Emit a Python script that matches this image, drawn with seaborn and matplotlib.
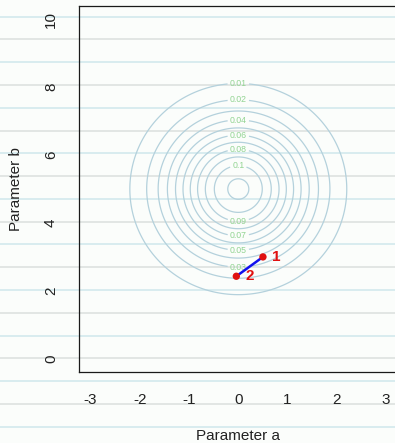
import numpy as np
import pandas as pd
import matplotlib
matplotlib.use("Agg")
import matplotlib.pyplot as plt
from matplotlib.lines import Line2D
import seaborn as sns

# Target density: independent normals for parameters a and b
mean_a, mean_b = 0.0, 5.0
sd_a, sd_b = 1.0, np.sqrt(2.0)
contour_levels = [0.01, 0.02, 0.03, 0.04, 0.05, 0.06, 0.07, 0.08, 0.09, 0.10, 0.11]
labels_above = [0.01, 0.02, 0.04, 0.06, 0.08, 0.10]
labels_below = [0.03, 0.05, 0.07, 0.09]

# Sampler path (step number, a, b)
steps = ["1", "2"]
path_a = [0.50, -0.04]
path_b = [3.00, 2.43]

x_ticks = [-3, -2, -1, 0, 1, 2, 3]
y_ticks = [0, 2, 4, 6, 8, 10]

sns.set_style("white")
plt.rcParams["font.family"] = ["Liberation Sans", "DejaVu Sans"]

W, H = 395, 443
fig = plt.figure(figsize=(W / 100, H / 100), dpi=100, facecolor="#fbfdfb")

# ruled background lines across the page
for i, y in enumerate(np.arange(16.6, H, 22.78)):
    col = "#d6ebee" if i % 2 == 0 else "#e0e4e2"
    fig.add_artist(Line2D([0, 1], [1 - y / H, 1 - y / H], transform=fig.transFigure,
                          color=col, lw=1.3, zorder=-5))

left, right, top, bottom = 78.6, 398.0, 5.8, 372.3
ax = fig.add_axes([left / W, 1 - bottom / H, (right - left) / W, (bottom - top) / H])
ax.set_facecolor("none")

ga = np.linspace(-3.3, 3.3, 400)
gb = np.linspace(-0.5, 10.5, 500)
A, B = np.meshgrid(ga, gb)
dens = np.exp(-0.5 * (((A - mean_a) / sd_a) ** 2 + ((B - mean_b) / sd_b) ** 2)) / (2 * np.pi * sd_a * sd_b)
peak = 1 / (2 * np.pi * sd_a * sd_b)

cs = ax.contour(A, B, dens, levels=contour_levels, colors="#b4d1dc", linewidths=0.9, zorder=1)

def radius_b(level):
    return sd_b * np.sqrt(2 * np.log(peak / level))

positions = [(mean_a, mean_b + radius_b(l)) for l in labels_above] + \
            [(mean_a, mean_b - radius_b(l)) for l in labels_below]
lbls = ax.clabel(cs, levels=labels_above + labels_below, manual=positions, inline=True,
                 inline_spacing=2, fontsize=6.3, fmt=lambda v: f"{v:g}", colors="#92d492")

df = pd.DataFrame({"step": steps, "a": path_a, "b": path_b})
sns.lineplot(data=df, x="a", y="b", sort=False, color="#1010ee", lw=1.8, ax=ax, zorder=3)
sns.scatterplot(data=df, x="a", y="b", color="#e01010", s=28, edgecolor="none", ax=ax, zorder=4)
for s, xa, yb in zip(steps, path_a, path_b):
    ax.annotate(s, (xa, yb), xytext=(6.5, 0), textcoords="offset points", ha="left",
                va="center", color="#e01010", fontsize=11, fontweight="bold", zorder=5)

ax.set_xlim(-3.24, 3.24)
ax.set_ylim(-0.4, 10.4)
ax.set_xticks(x_ticks)
ax.set_yticks(y_ticks)
ax.set_xticklabels([f"{t}" for t in x_ticks])
ax.set_yticklabels([f"{t}" for t in y_ticks], rotation=90, va="center")
ax.tick_params(axis="both", direction="out", length=5.8, width=1.1, color="#666666",
               labelsize=11, labelcolor="#222222", pad=9)
for side in ["left", "top", "bottom", "right"]:
    ax.spines[side].set_visible(True)
    ax.spines[side].set_color("#1a1a1a")
    ax.spines[side].set_linewidth(0.9)

ax.set_xlabel("Parameter a", fontsize=11, color="#222222", va="center")
ax.set_ylabel("Parameter b", fontsize=11, color="#222222", va="center")
ax.xaxis.set_label_coords((238.3 - left) / (right - left), -(436 - bottom) / (bottom - top), transform=ax.transAxes)
ax.yaxis.set_label_coords(-(left - 16) / (right - left), 0.5, transform=ax.transAxes)

fig.savefig("out.png", dpi=100, facecolor=fig.get_facecolor())
